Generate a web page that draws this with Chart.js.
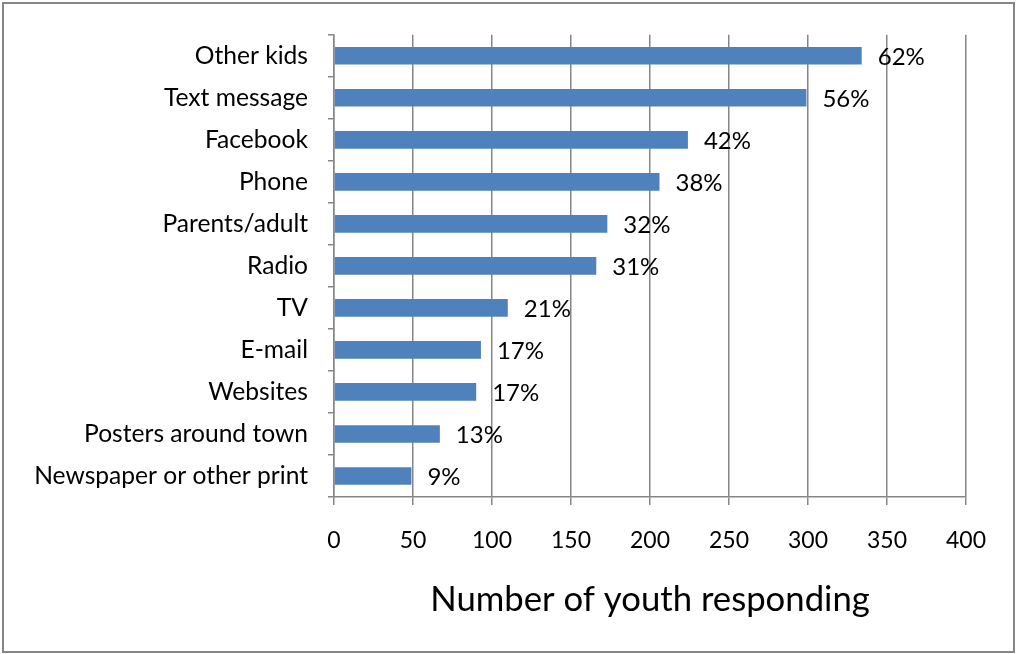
<!DOCTYPE html>
<html>
<head>
<meta charset="utf-8">
<title>Number of youth responding</title>
<script src="https://cdn.jsdelivr.net/npm/chart.js@4/dist/chart.umd.min.js"></script>
<style>
  html, body { margin: 0; padding: 0; background: #ffffff; }
  #wrap { width: 1017px; height: 654px; position: relative; }
</style>
</head>
<body>
<div id="wrap"><canvas id="chart" width="1017" height="654"></canvas></div>
<script>
// Information sources, top to bottom
const categories = [
  'Other kids', 'Text message', 'Facebook', 'Phone', 'Parents/adult',
  'Radio', 'TV', 'E-mail', 'Websites', 'Posters around town',
  'Newspaper or other print'
];
// Number of youth naming each source
const responses = [334, 299, 224, 206, 173, 166, 110, 93, 90, 67, 49];
// Share of respondents, printed at the end of each bar
const percentLabels = ['62%', '56%', '42%', '38%', '32%', '31%', '21%', '17%', '17%', '13%', '9%'];
// Horizontal axis
const xTicks = [0, 50, 100, 150, 200, 250, 300, 350, 400];
const xTitle = 'Number of youth responding';

const FONT = 'Lato, "Open Sans", "Liberation Sans", sans-serif';
const GRID = '#868686';

// Frame around the whole chart
const framePlugin = {
  id: 'frame',
  beforeDraw(chart) {
    const ctx = chart.ctx;
    ctx.save();
    ctx.fillStyle = '#ffffff';
    ctx.fillRect(0, 0, chart.width, chart.height);
    ctx.strokeStyle = GRID;
    ctx.lineWidth = 2;
    ctx.strokeRect(3, 3, chart.width - 6, chart.height - 5);
    ctx.restore();
  }
};

// Percent text beside each bar end
const percentPlugin = {
  id: 'percentText',
  afterDatasetsDraw(chart) {
    const ctx = chart.ctx;
    const meta = chart.getDatasetMeta(0);
    ctx.save();
    ctx.font = '24px ' + FONT;
    ctx.fillStyle = '#000000';
    ctx.textAlign = 'left';
    ctx.textBaseline = 'middle';
    meta.data.forEach((bar, i) => {
      ctx.fillText(percentLabels[i], bar.x + 16, bar.y + 1);
    });
    ctx.restore();
  }
};

new Chart(document.getElementById('chart'), {
  type: 'bar',
  data: {
    labels: categories,
    datasets: [{
      data: responses,
      backgroundColor: '#4F81BD',
      borderWidth: 0,
      categoryPercentage: 1,
      barPercentage: 0.42
    }]
  },
  plugins: [framePlugin, percentPlugin],
  options: {
    indexAxis: 'y',
    responsive: false,
    animation: false,
    events: [],
    layout: { padding: { top: 33, right: 51, left: 0, bottom: 0 } },
    plugins: {
      legend: { display: false },
      tooltip: { enabled: false }
    },
    scales: {
      x: {
        type: 'linear',
        min: xTicks[0],
        max: xTicks[xTicks.length - 1],
        afterBuildTicks(scale) { scale.ticks = xTicks.map(v => ({ value: v })); },
        afterFit(scale) { scale.height = 157; },
        grid: {
          color: GRID,
          lineWidth: 1.5,
          drawTicks: true,
          tickLength: 8,
          tickColor: GRID
        },
        border: { color: GRID, width: 1.5 },
        ticks: {
          color: '#000000',
          font: { family: FONT, size: 23 },
          padding: 22
        },
        title: {
          display: true,
          text: xTitle,
          color: '#000000',
          font: { family: FONT, size: 34.7 },
          padding: { top: 33, bottom: 33 }
        }
      },
      y: {
        type: 'category',
        afterFit(scale) { scale.width = 334; },
        grid: {
          drawOnChartArea: false,
          drawTicks: true,
          tickLength: 6,
          tickColor: GRID,
          lineWidth: 1.5
        },
        border: { color: GRID, width: 1.5 },
        ticks: {
          color: '#000000',
          font: { family: FONT, size: 24.6 },
          padding: 20
        }
      }
    }
  }
});
</script>
</body>
</html>
